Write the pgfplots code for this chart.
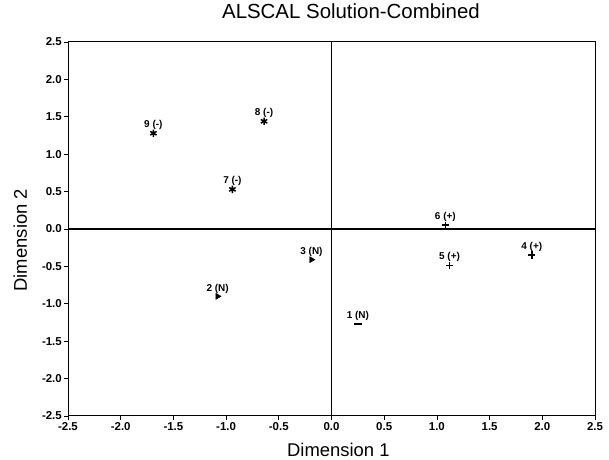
\documentclass[border=0pt]{standalone}
\usepackage{fontspec}
\setmainfont{Liberation Sans}
\usepackage{pgfplots}
\pgfplotsset{compat=1.18}
\begin{document}
\begin{tikzpicture}[x=1bp,y=1bp]
\path[use as bounding box] (-68,-44) rectangle (541,416);
\begin{axis}[
  at={(0,0)}, anchor=south west,
  scale only axis, width=527bp, height=374bp,
  xmin=-2.5, xmax=2.5, ymin=-2.5, ymax=2.5,
  xtick={-2.5,-2,...,2.5}, ytick={-2.5,-2,...,2.5},
  /pgf/number format/fixed, /pgf/number format/fixed zerofill, /pgf/number format/precision=1,
  /pgf/number format/assume math mode=true,
  tick label style={font=\bfseries\fontsize{11.5}{13}\selectfont},
  xticklabel style={inner sep=2bp},
  yticklabel style={inner sep=2bp},
  tick align=outside, tick pos=left,
  major tick length=4bp,
  tick style={line width=0.8pt, black},
  axis line style={line width=1pt},
  xlabel={Dimension 1}, ylabel={Dimension 2},
  label style={font=\fontsize{18.5}{22}\selectfont},
  xlabel style={at={(axis description cs:0.513,-0.107)}, anchor=base},
  ylabel style={at={(axis description cs:-0.078,0.47)}, anchor=base},
  title={ALSCAL Solution-Combined},
  title style={font=\fontsize{20.5}{24}\selectfont, at={(axis description cs:0.537,1.0455)}, anchor=base},
  clip=false,
  nodes near coords={\bfseries\fontsize{10}{11}\selectfont\pgfplotspointmeta},
  point meta=explicit symbolic,
  every node near coord/.style={anchor=south, inner sep=1bp, yshift=2bp},
]
\addplot[black, line width=1.3pt, forget plot, nodes near coords={}] coordinates {(0,-2.5) (0,2.5)};
\addplot[black, line width=1.3pt, forget plot, nodes near coords={}] coordinates {(-2.5,0) (2.5,0)};
\addplot[only marks, mark=asterisk, mark size=3.7pt, mark options={line width=1.5pt}] coordinates {
(-1.69,1.28) [9 (-)]
(-0.64,1.44) [8 (-)]
(-0.94,0.53) [7 (-)]
};
\addplot[only marks, mark=triangle*, mark size=3.5pt, mark options={rotate=30}] coordinates {
(-0.19,-0.41) [3 (N)]
(-1.08,-0.90) [2 (N)]
};
\addplot[only marks, mark=-, mark size=3.7pt, mark options={line width=1.8pt}] coordinates {
(0.25,-1.27) [1 (N)]
};
\addplot[only marks, mark=+, mark size=3.7pt, mark options={line width=1.6pt}] coordinates {
(1.08,0.05) [6 (+)]
(1.12,-0.49) [5 (+)]
(1.90,-0.35) [4 (+)]
};
\end{axis}
\end{tikzpicture}
\end{document}
